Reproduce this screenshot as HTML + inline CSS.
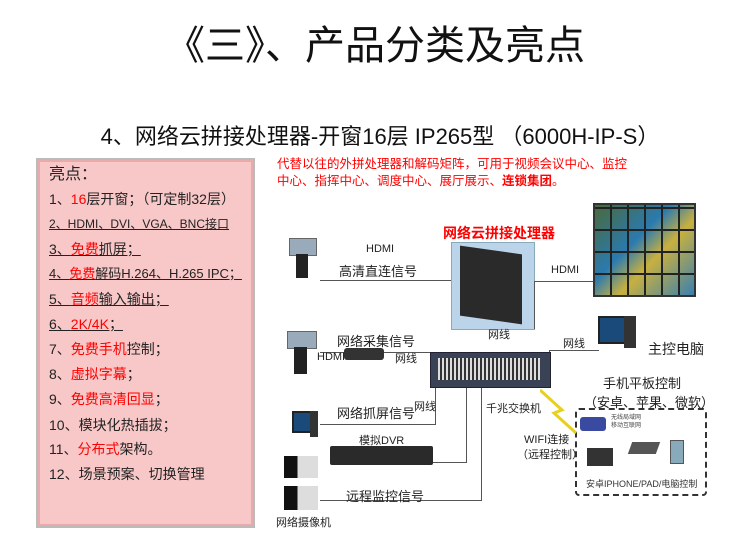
<!DOCTYPE html><html><head><meta charset="utf-8"><style>
body{margin:0;width:750px;height:550px;background:#fff;position:relative;overflow:hidden;font-family:"Liberation Sans","Noto Sans CJK SC",sans-serif;}
.a{position:absolute;white-space:nowrap;}
.r{color:#f00}
.pk div{position:absolute;left:11px;font-size:14px;color:#222;line-height:18px}
.u{text-decoration:underline}
.l{position:absolute;background:#555}
.s{font-size:11px;color:#222}
.m{font-size:13px;color:#222}
</style></head><body>
<div class="a" style="left:0;width:750px;top:18px;text-align:center;font-size:40px;color:#111;line-height:56px">《三》、产品分类及亮点</div>
<div class="a" style="left:60px;width:640px;top:122px;text-align:center;font-size:22px;color:#111;line-height:30px">4、网络云拼接处理器-开窗16层 IP265型 （6000H-IP-S）</div>
<div class="pk a" style="left:36px;top:158px;width:215px;height:366px;background:#f8c8c8;border:2px solid #bbb;box-shadow:inset 0 0 0 2px #e9aaaa;">
<div class="r" style="top:6px;font-size:16px">亮点<span style="color:#222">：</span></div>
<div style="top:30px">1、<span class="r">16</span>层开窗；（可定制32层）</div>
<div class="u" style="top:55px;font-size:12px">2、HDMI、DVI、VGA、BNC接口</div>
<div class="u" style="top:80px">3、<span class="r">免费</span>抓屏；</div>
<div class="u" style="top:105px;font-size:13px">4、<span class="r">免费</span>解码H.264、H.265 IPC；</div>
<div class="u" style="top:130px">5、<span class="r">音频</span>输入输出；</div>
<div class="u" style="top:155px">6、<span class="r">2K/4K</span>；</div>
<div style="top:180px">7、<span class="r">免费手机</span>控制；</div>
<div style="top:205px">8、<span class="r">虚拟字幕</span>；</div>
<div style="top:230px">9、<span class="r">免费高清回显</span>；</div>
<div style="top:256px">10、模块化热插拔；</div>
<div style="top:280px">11、<span class="r">分布式</span>架构。</div>
<div style="top:305px">12、场景预案、切换管理</div>
</div>
<div class="a r" style="left:277px;top:156px;font-size:12.5px;line-height:17px">代替以往的外拼处理器和解码矩阵，可用于视频会议中心、监控<br>中心、指挥中心、调度中心、展厅展示、<b>连锁集团</b>。</div>
<div class="a r" style="left:443px;top:223px;font-size:14px;font-weight:bold">网络云拼接处理器</div>
<div class="a" style="left:451px;top:242px;width:82px;height:86px;background:#bcd4ea;border:1px solid #8ab"></div>
<div class="a" style="left:460px;top:250px;width:62px;height:70px;background:#2a2a2a;transform:skewY(8deg)"></div>
<div class="a" style="left:593px;top:203px;width:99px;height:90px;background:repeating-linear-gradient(90deg,transparent 0 15px,#222 15px 17px),repeating-linear-gradient(0deg,transparent 0 20px,#222 20px 22px),linear-gradient(135deg,#4a6a3a,#2a7ab0 40%,#c8b040 60%,#3a80b0);border:2px solid #333"></div>
<!-- lines -->
<div class="l" style="left:320px;top:280px;width:131px;height:1px"></div>
<div class="l" style="left:534px;top:281px;width:59px;height:1px"></div>
<div class="l" style="left:534px;top:281px;width:1px;height:48px"></div>
<div class="l" style="left:320px;top:352px;width:110px;height:1px"></div>
<div class="l" style="left:549px;top:350px;width:50px;height:1px"></div>
<div class="l" style="left:549px;top:350px;width:1px;height:8px"></div>
<div class="l" style="left:320px;top:424px;width:115px;height:1px"></div>
<div class="l" style="left:435px;top:386px;width:1px;height:39px"></div>
<div class="l" style="left:433px;top:462px;width:33px;height:1px"></div>
<div class="l" style="left:466px;top:386px;width:1px;height:77px"></div>
<div class="l" style="left:320px;top:500px;width:161px;height:1px"></div>
<div class="l" style="left:481px;top:386px;width:1px;height:115px"></div>
<!-- switch -->
<div class="a" style="left:430px;top:352px;width:119px;height:34px;background:#3a4256;border:1px solid #223"></div>
<div class="a" style="left:438px;top:358px;width:102px;height:22px;background:repeating-linear-gradient(90deg,#ddd 0 2px,#333 2px 4px)"></div>
<!-- terminals -->
<div class="a" style="left:289px;top:238px;width:26px;height:16px;background:#9ab;border:1px solid #666"></div>
<div class="a" style="left:296px;top:254px;width:12px;height:24px;background:#222"></div>
<div class="a" style="left:287px;top:331px;width:28px;height:16px;background:#9ab;border:1px solid #666"></div>
<div class="a" style="left:294px;top:347px;width:13px;height:27px;background:#222"></div>
<div class="a" style="left:344px;top:348px;width:40px;height:12px;background:#333;border-radius:3px"></div>
<div class="a" style="left:598px;top:316px;width:24px;height:24px;background:#1a4a7a;border:2px solid #222"></div>
<div class="a" style="left:624px;top:316px;width:12px;height:32px;background:#333"></div>
<div class="a" style="left:292px;top:411px;width:18px;height:18px;background:#1a4a7a;border:2px solid #222"></div>
<div class="a" style="left:310px;top:411px;width:8px;height:26px;background:#333"></div>
<div class="a" style="left:330px;top:446px;width:103px;height:19px;background:#2a2a2a;border-radius:2px"></div>
<div class="a" style="left:284px;top:456px;width:34px;height:22px;background:linear-gradient(90deg,#111 40%,#ddd 40%)"></div>
<div class="a" style="left:284px;top:486px;width:34px;height:24px;background:linear-gradient(90deg,#111 40%,#ddd 40%)"></div>
<!-- dashed box -->
<div class="a" style="left:575px;top:408px;width:128px;height:84px;border:2px dashed #333;border-radius:4px"></div>
<div class="a" style="left:580px;top:417px;width:26px;height:14px;background:#3a4aa0;border-radius:3px"></div>
<div class="a" style="left:587px;top:448px;width:26px;height:18px;background:#333"></div>
<div class="a" style="left:630px;top:442px;width:28px;height:12px;background:#555;transform:skewX(-20deg)"></div>
<div class="a" style="left:670px;top:440px;width:12px;height:22px;background:#8ab;border:1px solid #555"></div>
<svg class="a" style="left:540px;top:385px" width="40" height="50"><path d="M0 5 L22 25 L14 28 L36 48" stroke="#e8d020" stroke-width="3" fill="none"/></svg>
<!-- labels -->
<div class="a s" style="left:366px;top:243px">HDMI</div>
<div class="a m" style="left:339px;top:261px">高清直连信号</div>
<div class="a s" style="left:551px;top:264px">HDMI</div>
<div class="a s" style="left:488px;top:326px">网线</div>
<div class="a m" style="left:337px;top:331px">网络采集信号</div>
<div class="a s" style="left:317px;top:351px">HDMI</div>
<div class="a s" style="left:395px;top:350px">网线</div>
<div class="a s" style="left:563px;top:335px">网线</div>
<div class="a" style="left:648px;top:339px;font-size:14px;color:#222">主控电脑</div>
<div class="a m" style="left:603px;top:373px">手机平板控制</div>
<div class="a m" style="left:584px;top:392px">（安卓、苹果、微软）</div>
<div class="a s" style="left:486px;top:400px">千兆交换机</div>
<div class="a m" style="left:337px;top:403px">网络抓屏信号</div>
<div class="a s" style="left:414px;top:398px">网线</div>
<div class="a s" style="left:524px;top:431px">WIFI连接</div>
<div class="a s" style="left:517px;top:446px">（远程控制）</div>
<div class="a s" style="left:359px;top:432px">模拟DVR</div>
<div class="a m" style="left:346px;top:486px">远程监控信号</div>
<div class="a" style="left:276px;top:514px;font-size:11px;color:#222">网络摄像机</div>
<div class="a" style="left:611px;top:414px;font-size:6px;color:#444;line-height:8px">无线局域网<br>移动互联网</div>
<div class="a" style="left:586px;top:477px;font-size:9px;color:#333">安卓IPHONE/PAD/电脑控制</div>
</body></html>
